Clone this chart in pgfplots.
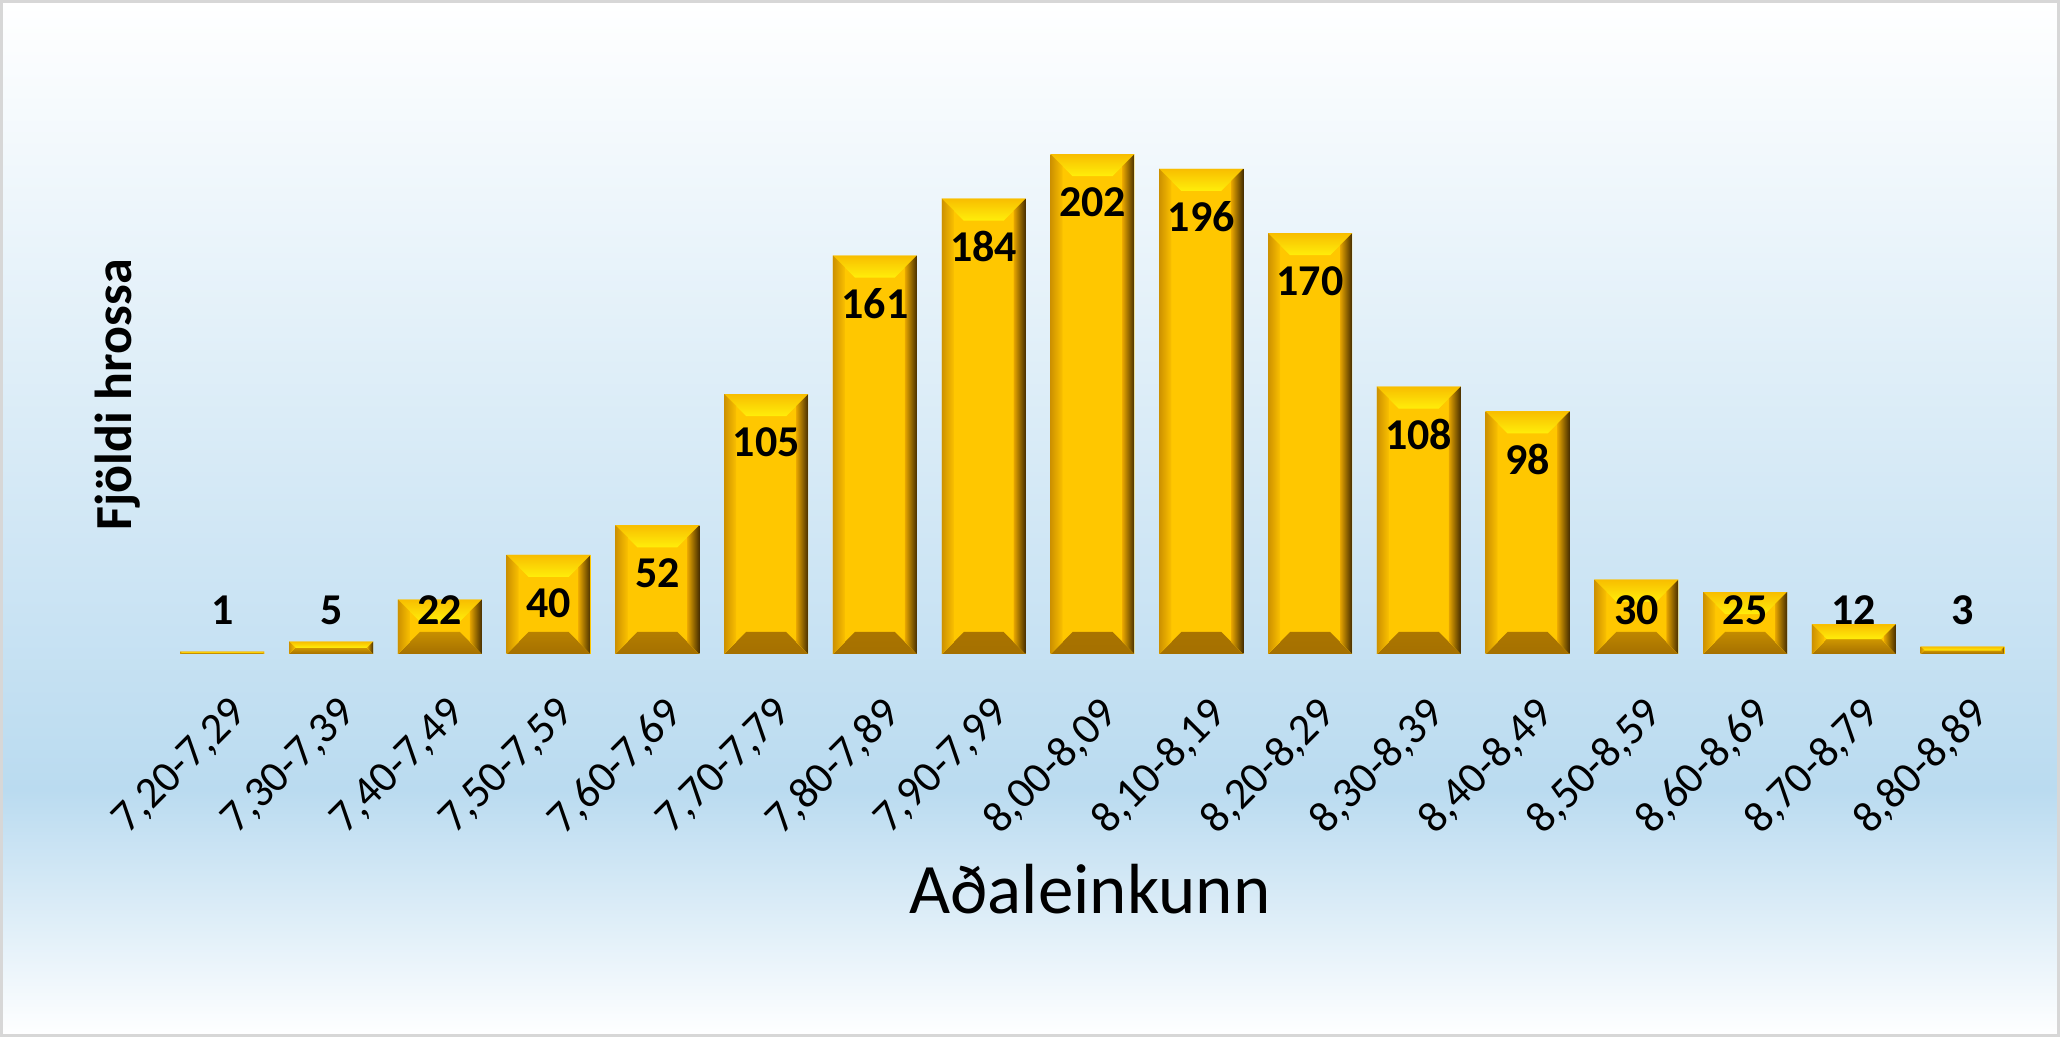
\documentclass[border=0pt]{standalone}
\usepackage{pgfplots}
\pgfplotsset{compat=1.18}
\usepackage{pgfplotstable}
\usepackage{fontspec}
\setmainfont{Carlito}

\definecolor{bgblue}{RGB}{186,219,240}
\definecolor{gold}{RGB}{255,199,0}
\definecolor{goldtopA}{RGB}{248,190,0}
\definecolor{goldtopB}{RGB}{255,238,10}
\definecolor{goldleftA}{RGB}{205,145,0}
\definecolor{goldleftB}{RGB}{250,192,0}
\definecolor{goldrightA}{RGB}{230,165,0}
\definecolor{goldrightB}{RGB}{70,45,0}
\definecolor{goldbotA}{RGB}{248,188,0}
\definecolor{goldbotB}{RGB}{165,112,0}
\definecolor{framegray}{RGB}{215,215,215}

\pgfplotstableread{
x v ly
0 1 17.8
1 5 17.8
2 22 17.8
3 40 20.6
4 52 32.6
5 105 85.6
6 161 141.6
7 184 164.6
8 202 182.6
9 196 176.6
10 170 150.6
11 108 88.6
12 98 78.6
13 30 17.8
14 25 17.8
15 12 17.8
16 3 17.8
}\datatable

\newif\ifinbevel
\newcommand\bevelbar{%
  \ifinbevel\else
  \inbeveltrue
  \pgfpointanchor{path picture bounding box}{south west}\pgfgetlastxy{\xa}{\ya}%
  \pgfpointanchor{path picture bounding box}{north east}\pgfgetlastxy{\xb}{\yb}%
  \pgfmathsetlengthmacro{\bv}{min(11pt,(\yb-\ya)/2)}%
  \pgfmathsetlengthmacro{\bs}{min(6pt,(\yb-\ya)/2)}%
  \pgfmathsetlengthmacro{\xav}{\xa+\bv}\pgfmathsetlengthmacro{\xbv}{\xb-\bv}%
  \pgfmathsetlengthmacro{\yav}{\ya+\bv}\pgfmathsetlengthmacro{\ybv}{\yb-\bv}%
  \pgfmathsetlengthmacro{\xas}{\xa+\bs}\pgfmathsetlengthmacro{\xbs}{\xb-\bs}%
  \pgfmathsetlengthmacro{\yas}{\ya+\bs}\pgfmathsetlengthmacro{\ybs}{\yb-\bs}%
  \shade[top color=goldbotA, bottom color=goldbotB] (canvas cs:x=\xa,y=\ya) -- (canvas cs:x=\xb,y=\ya) -- (canvas cs:x=\xbv,y=\yav) -- (canvas cs:x=\xav,y=\yav) -- cycle;
  \shade[top color=goldtopA, bottom color=goldtopB] (canvas cs:x=\xa,y=\yb) -- (canvas cs:x=\xb,y=\yb) -- (canvas cs:x=\xbv,y=\ybv) -- (canvas cs:x=\xav,y=\ybv) -- cycle;
  \shade[left color=goldleftA, right color=goldleftB] (canvas cs:x=\xa,y=\ya) -- (canvas cs:x=\xa,y=\yb) -- (canvas cs:x=\xas,y=\ybs) -- (canvas cs:x=\xas,y=\yas) -- cycle;
  \shade[left color=goldrightA, right color=goldrightB] (canvas cs:x=\xb,y=\ya) -- (canvas cs:x=\xb,y=\yb) -- (canvas cs:x=\xbs,y=\ybs) -- (canvas cs:x=\xbs,y=\yas) -- cycle;
  \fi
}

\begin{document}
\begin{tikzpicture}[x=1pt,y=1pt]
\shade[top color=white, bottom color=bgblue] (0,123.5) rectangle (1030,518.5);
\shade[top color=bgblue, bottom color=white] (0,0) rectangle (1030,123.5);
\draw[framegray, line width=1.5pt] (0.75,0.75) rectangle (1029.25,517.75);
\begin{axis}[
  at={(84pt,191.5pt)}, anchor=south west,
  scale only axis, width=924.5pt, height=272.25pt,
  xmin=-0.5, xmax=16.5, ymin=0, ymax=220,
  clip=false,
  axis line style={draw=none},
  tick style={draw=none},
  ytick=\empty,
  xtick={0,...,16},
  xticklabels={{7,20-7,29},{7,30-7,39},{7,40-7,49},{7,50-7,59},{7,60-7,69},{7,70-7,79},{7,80-7,89},{7,90-7,99},{8,00-8,09},{8,10-8,19},{8,20-8,29},{8,30-8,39},{8,40-8,49},{8,50-8,59},{8,60-8,69},{8,70-8,79},{8,80-8,89}},
  xticklabel style={font=\fontsize{22}{26}\selectfont, rotate=45, anchor=north east, inner sep=0pt, xshift=2.1pt, yshift=-2.1pt},
  xticklabel shift=20pt,
  xlabel={Aðaleinkunn},
  every axis x label/.style={at={(axis description cs:0.4986,-0.4775)}, anchor=base, font=\fontsize{35.5}{40}\selectfont},
  ylabel={Fjöldi hrossa},
  every axis y label/.style={at={(axis description cs:-0.027,0.476)}, rotate=90, anchor=center, font=\bfseries\fontsize{26}{30}\selectfont},
  bevelbar/.style={ybar, bar width=0.772, bar shift=0pt, fill=gold, draw=none, path picture={\bevelbar}},
]
\pgfplotsinvokeforeach{0,...,16}{%
  \addplot[bevelbar, restrict x to domain=#1:#1] table[x=x,y=v]{\datatable};
}
\addplot[only marks, mark=none, nodes near coords, point meta=explicit symbolic,
  nodes near coords align={anchor=center},
  every node near coord/.append style={anchor=center, font=\bfseries\fontsize{22}{24}\selectfont, inner sep=0pt}]
  table[x=x,y=ly,meta=v]{\datatable};
\end{axis}
\end{tikzpicture}
\end{document}
